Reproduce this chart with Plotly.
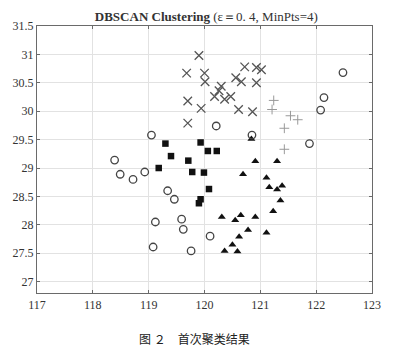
import plotly.graph_objects as go

# Cluster members (longitude, latitude)
cross_lon = [119.90, 119.68, 120.00, 120.01, 120.72, 120.93, 121.02, 120.56, 120.66, 120.93,
             120.30, 120.26, 120.18, 120.36, 120.47, 119.70, 119.94, 120.61, 120.86, 119.70]
cross_lat = [30.98, 30.67, 30.67, 30.52, 30.78, 30.77, 30.73, 30.59, 30.52, 30.50,
             30.44, 30.36, 30.26, 30.21, 30.26, 30.18, 30.05, 30.03, 29.99, 29.79]

plus_lon = [121.24, 121.21, 121.54, 121.67, 121.43, 121.43]
plus_lat = [30.19, 30.03, 29.92, 29.85, 29.70, 29.33]

square_lon = [119.30, 119.93, 120.06, 120.22, 119.40, 119.71, 119.18, 119.78, 119.99, 120.08, 119.93, 119.90]
square_lat = [29.43, 29.45, 29.30, 29.30, 29.21, 29.13, 29.00, 28.93, 28.92, 28.63, 28.45, 28.38]

tri_lon = [120.84, 120.91, 121.30, 120.69, 121.11, 121.16, 121.30, 121.39, 121.36, 121.23,
           120.31, 120.65, 120.55, 120.91, 120.78, 121.11, 120.62, 120.50, 120.36, 120.59]
tri_lat = [29.51, 29.12, 29.12, 28.89, 28.83, 28.66, 28.62, 28.69, 28.43, 28.24,
           28.14, 28.17, 28.08, 28.14, 27.91, 27.86, 27.79, 27.65, 27.54, 27.53]

# Noise points
noise_lon = [122.48, 122.14, 122.08, 121.88, 120.85, 120.21, 119.05, 118.39, 118.49, 118.72,
             118.93, 119.34, 119.46, 119.12, 119.59, 119.62, 120.10, 119.08, 119.76]
noise_lat = [30.68, 30.24, 30.02, 29.43, 29.58, 29.74, 29.58, 29.14, 28.89, 28.80,
             28.93, 28.60, 28.45, 28.05, 28.10, 27.92, 27.80, 27.61, 27.54]

x_ticks = [117, 118, 119, 120, 121, 122, 123]
y_ticks = [27, 27.5, 28, 28.5, 29, 29.5, 30, 30.5, 31, 31.5]

SERIF = "Liberation Serif, Times New Roman, DejaVu Serif, serif"

fig = go.Figure()
fig.add_trace(go.Scatter(x=cross_lon, y=cross_lat, mode="markers",
                         marker=dict(symbol="x-thin", size=8.5, color="#555555",
                                     line=dict(color="#555555", width=1.3))))
fig.add_trace(go.Scatter(x=plus_lon, y=plus_lat, mode="markers",
                         marker=dict(symbol="cross-thin", size=7, color="#999999",
                                     line=dict(color="#999999", width=1))))
fig.add_trace(go.Scatter(x=square_lon, y=square_lat, mode="markers",
                         marker=dict(symbol="square", size=6.5, color="#111111")))
fig.add_trace(go.Scatter(x=tri_lon, y=tri_lat, mode="markers",
                         marker=dict(symbol="triangle-up", size=7, color="#111111")))
fig.add_trace(go.Scatter(x=noise_lon, y=noise_lat, mode="markers",
                         marker=dict(symbol="circle-open", size=7.5, color="#444444",
                                     line=dict(color="#444444", width=1.3))))

axis_common = dict(showgrid=True, gridcolor="#e2e2e2", gridwidth=1, zeroline=False,
                   showline=True, linecolor="#6a6a6a", linewidth=1.2, mirror="ticks",
                   ticks="inside", ticklen=3, tickcolor="#6a6a6a",
                   tickfont=dict(family=SERIF, size=12, color="#333333"))

fig.update_xaxes(range=[117, 123], tickvals=x_ticks, **axis_common)
fig.update_yaxes(range=[26.8, 31.5], tickvals=y_ticks, **axis_common)

fig.update_layout(
    width=393, height=350,
    margin=dict(l=37, r=17, t=26, b=57),
    paper_bgcolor="white", plot_bgcolor="white",
    showlegend=False,
    font=dict(family=SERIF),
    title=dict(text="<b>DBSCAN Clustering</b> (ε＝0. 4, MinPts=4)",
               x=0.525, xanchor="center", y=1 - 16 / 350, yanchor="middle",
               font=dict(family=SERIF, size=13, color="#333333")),
    annotations=[dict(text="图 ２　首次聚类结果", xref="paper", yref="paper",
                      x=0.47, y=-0.17, xanchor="center", yanchor="middle", showarrow=False,
                      font=dict(family="Noto Sans CJK SC", size=12, color="#222222"))],
)

fig.write_html("out.html")
